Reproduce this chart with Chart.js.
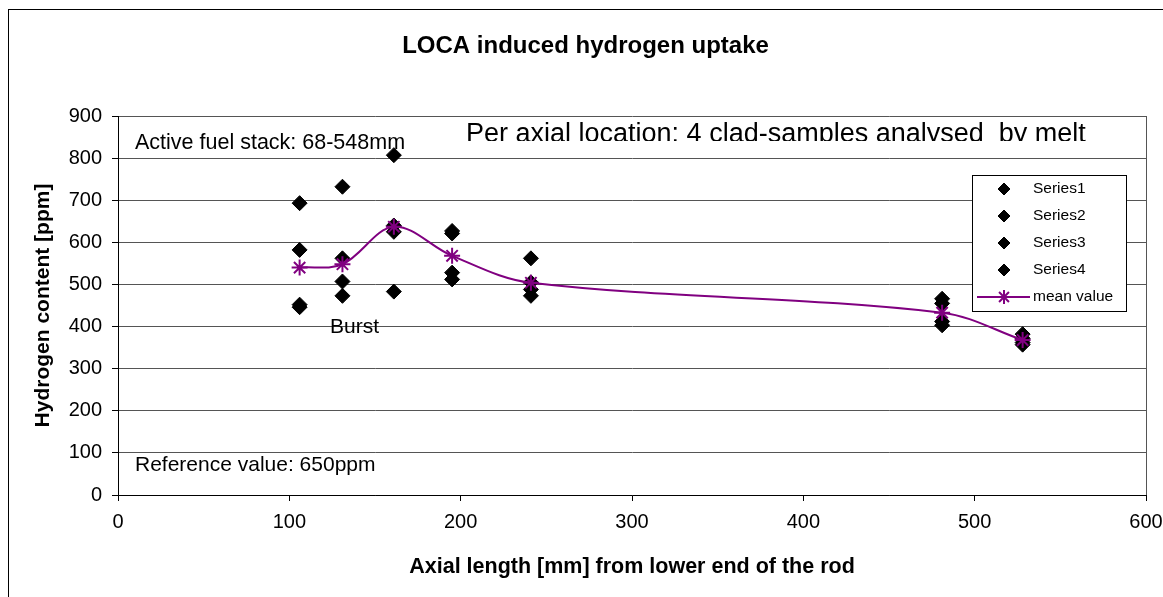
<!DOCTYPE html>
<html><head><meta charset="utf-8">
<script src="https://cdn.jsdelivr.net/npm/chart.js@4"></script>
<style>html,body{margin:0;padding:0;background:#fff}#wrap{width:1163px;height:597px}</style>
</head><body><div id="wrap"><canvas id="c" width="1163" height="597"></canvas></div>
<script>
// ---- data ----
const positions = [106, 131, 161, 195, 241, 481, 528];
const series1 = [693, 732, 807, 627, 562, 466, 382];
const series2 = [582, 562, 625, 621, 505, 455, 372];
const series3 = [452, 507, 640, 528, 488, 412, 362];
const series4 = [446, 473, 483, 512, 473, 403, 357];
const meanValue = [540, 548, 637, 568, 504, 433, 368];
const seriesLabels = ['Series1', 'Series2', 'Series3', 'Series4', 'mean value'];
const chartTitle = 'LOCA induced hydrogen uptake';
const xTitle = 'Axial length [mm] from lower end of the rod';
const yTitle = 'Hydrogen content [ppm]';
const noteFuel = 'Active fuel stack: 68-548mm';
const noteRef = 'Reference value: 650ppm';
const noteBurst = 'Burst';
const noteSamples = 'Per axial location: 4 clad-samples analysed  by melt';

const FONT = "'Liberation Sans', Arial, Helvetica, sans-serif";
const PURPLE = '#800080';

const diamondStyle = {pointStyle: 'rectRot', pointRadius: 7.5, pointHoverRadius: 7.5,
  backgroundColor: '#000', borderColor: '#000', borderWidth: 1, showLine: false, order: 1};

const datasets = [series1, series2, series3, series4].map((arr, i) => Object.assign({
  label: seriesLabels[i],
  data: positions.map((x, j) => ({x: x, y: arr[j]}))
}, diamondStyle));
datasets.push({
  label: seriesLabels[4],
  data: positions.map((x, j) => ({x: x, y: meanValue[j]})),
  showLine: true, borderColor: PURPLE, borderWidth: 2, tension: 0.35,
  pointStyle: 'star', pointRadius: 8, pointHoverRadius: 8,
  pointBorderColor: PURPLE, pointBorderWidth: 2, backgroundColor: PURPLE, order: 0
});

const decor = {
  id: 'decor',
  beforeDraw(chart) {
    const ctx = chart.ctx;
    ctx.save();
    ctx.fillStyle = '#fff';
    ctx.fillRect(0, 0, chart.width, chart.height);
    ctx.strokeStyle = '#000';
    ctx.lineWidth = 1;
    ctx.strokeRect(8.5, 9.5, chart.width + 20, chart.height + 20);
    ctx.restore();
  },
  afterDatasetsDraw(chart) {
    const ctx = chart.ctx;
    const a = chart.chartArea;
    ctx.save();
    // plot area right border
    ctx.strokeStyle = '#555';
    ctx.lineWidth = 1;
    ctx.beginPath();
    ctx.moveTo(Math.round(a.right) + 0.5, a.top);
    ctx.lineTo(Math.round(a.right) + 0.5, a.bottom);
    ctx.stroke();

    ctx.fillStyle = '#000';
    ctx.textBaseline = 'middle';
    ctx.textAlign = 'left';
    ctx.font = '21.5px ' + FONT;
    ctx.fillText(noteFuel, 135, 143);
    ctx.font = '21px ' + FONT;
    ctx.fillText(noteRef, 135, 465);
    ctx.fillText(noteBurst, 330, 327);
    // clipped text box
    ctx.save();
    ctx.beginPath();
    ctx.rect(400, 100, 760, 41);
    ctx.clip();
    ctx.font = '27px ' + FONT;
    ctx.textBaseline = 'alphabetic';
    ctx.fillText(noteSamples, 466, 142);
    ctx.restore();

    // legend
    const lx = 972, ly = 175, lw = 154, lh = 136;
    ctx.fillStyle = '#fff';
    ctx.fillRect(lx, ly, lw, lh);
    ctx.strokeStyle = '#000';
    ctx.lineWidth = 1;
    ctx.strokeRect(lx + 0.5, ly + 0.5, lw, lh);
    chart.data.datasets.forEach((ds, i) => {
      const cy = ly + 14 + i * 27;
      const mx = 1004;
      if (ds.showLine) {
        ctx.strokeStyle = ds.borderColor;
        ctx.lineWidth = 2;
        ctx.beginPath();
        ctx.moveTo(977, cy); ctx.lineTo(1030, cy); ctx.stroke();
        Chart.helpers.drawPoint(ctx, {pointStyle: 'star', radius: 7, rotation: 0, borderWidth: 2}, mx, cy);
      } else {
        ctx.fillStyle = '#000';
        ctx.strokeStyle = '#000';
        ctx.lineWidth = 1;
        Chart.helpers.drawPoint(ctx, {pointStyle: 'rectRot', radius: 6, rotation: 0, borderWidth: 1}, mx, cy);
      }
      ctx.fillStyle = '#000';
      ctx.font = '15.5px ' + FONT;
      ctx.textBaseline = 'middle';
      ctx.fillText(ds.label, 1033, cy);
    });
    ctx.restore();
  }
};

new Chart(document.getElementById('c'), {
  type: 'scatter',
  data: {datasets: datasets},
  options: {
    responsive: false, animation: false, devicePixelRatio: 1,
    layout: {padding: {left: 8, right: 0, top: 0, bottom: 0}},
    plugins: {
      legend: {display: false},
      tooltip: {enabled: false},
      title: {display: true, text: chartTitle, color: '#000',
        font: {family: FONT, size: 24, weight: 'bold', lineHeight: 1.2},
        padding: {top: 32, bottom: 55.2}}
    },
    scales: {
      x: {type: 'linear', min: 0, max: 600,
        ticks: {stepSize: 100, color: '#000', font: {family: FONT, size: 20}, padding: 9, maxRotation: 0},
        grid: {drawOnChartArea: false, color: '#000', tickColor: '#000', tickLength: 6},
        border: {color: '#000', width: 1},
        title: {display: true, text: xTitle, color: '#000',
          font: {family: FONT, size: 21.5, weight: 'bold'}, padding: {top: 17, bottom: 17}},
        afterFit(s) { s.height = 102; s.paddingRight = 17; s.paddingLeft = 0; }
      },
      y: {type: 'linear', min: 0, max: 900,
        ticks: {stepSize: 100, color: '#000', font: {family: FONT, size: 20}, padding: 10},
        grid: {color: '#555', tickColor: '#000', tickLength: 6},
        border: {color: '#000', width: 1},
        title: {display: true, text: yTitle, color: '#000',
          font: {family: FONT, size: 21, weight: 'bold'}, padding: {top: 23, bottom: 23}},
        afterFit(s) { s.width = 110; s.paddingTop = 0; s.paddingBottom = 0; }
      }
    }
  },
  plugins: [decor]
});
</script></body></html>
